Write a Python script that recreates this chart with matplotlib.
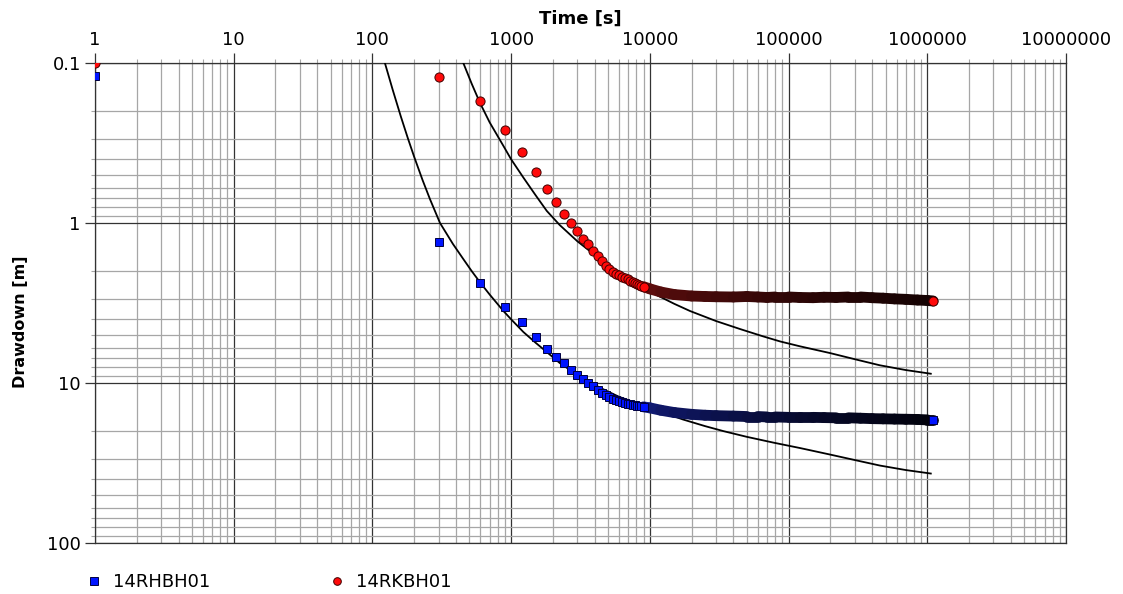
import numpy as np
import matplotlib.pyplot as plt
from matplotlib.ticker import FixedLocator, LogLocator, FuncFormatter, NullFormatter
from matplotlib.lines import Line2D
from matplotlib.collections import LineCollection
from matplotlib.colors import to_rgb

# --- measured drawdown, early part (individual readings) ---
time_early = [1, 300, 600, 900, 1200, 1500, 1800, 2100, 2400, 2700, 3000,
              3300, 3600, 3900, 4200, 4500, 4800, 5100, 5400, 5700, 6000,
              6300, 6600, 6900, 7200, 7500, 7800, 8100, 8400, 8700, 9000]
rh_early = [0.12, 1.31, 2.36, 3.33, 4.18, 5.18, 6.1, 6.9, 7.54, 8.3, 8.95,
            9.5, 10.0, 10.5, 11.0, 11.5, 11.9, 12.3, 12.6, 12.85, 13.05,
            13.2, 13.35, 13.5, 13.6, 13.7, 13.8, 13.9, 13.95, 14.0, 14.1]
rk_early = [0.1, 0.122, 0.172, 0.262, 0.36, 0.48, 0.61, 0.74, 0.875, 1.0, 1.13,
            1.25, 1.36, 1.49, 1.61, 1.73, 1.85, 1.94, 2.01, 2.07, 2.12,
            2.16, 2.2, 2.24, 2.29, 2.33, 2.37, 2.41, 2.44, 2.47, 2.5]

# --- measured drawdown, late part (dense band of readings) ---
time_late = [9000, 10000, 12000, 15000, 20000, 25000, 30000, 40000, 50000,
             60000, 70000, 80000, 100000, 120000, 150000, 180000, 220000,
             270000, 330000, 400000, 480000, 580000, 700000, 850000,
             1000000, 1100000]
rh_late = [14.1, 14.3, 14.8, 15.3, 15.7, 15.9, 16.0, 16.1, 16.2, 16.2, 16.3,
           16.3, 16.4, 16.4, 16.4, 16.45, 16.5, 16.5, 16.6, 16.7, 16.75,
           16.8, 16.85, 16.9, 17.0, 17.0]
rk_late = [2.5, 2.58, 2.7, 2.8, 2.86, 2.88, 2.89, 2.9, 2.88, 2.9, 2.92, 2.9,
           2.9, 2.92, 2.93, 2.91, 2.92, 2.9, 2.9, 2.93, 2.95, 2.98, 3.0,
           3.03, 3.05, 3.07]

# --- fitted type curves ---
fit_rh_time = [123, 140, 160, 180, 200, 230, 260, 307, 380, 452, 520, 597,
               700, 880, 1000, 1225, 1500, 1806, 2240, 3000, 4375, 6000,
               10000, 17300, 25000, 34000, 50000, 78000, 121000, 199000,
               300000, 455000, 700000, 1060000]
fit_rh = [0.1, 0.147, 0.215, 0.295, 0.386, 0.54, 0.71, 1.0, 1.35, 1.68, 2.0,
          2.35, 2.8, 3.55, 4.0, 4.8, 5.6, 6.4, 7.5, 8.9, 10.7, 12.2,
          14.3, 16.9, 18.6, 20.0, 21.7, 23.6, 25.5, 28.0,
          30.3, 32.8, 35.0, 36.8]
fit_rk_time = [452, 520, 597, 700, 880, 1000, 1225, 1500, 1806, 2240, 3000,
               3920, 5000, 6800, 9000, 11200, 15000, 19500, 30000, 44700,
               65000, 87000, 121000, 199000, 300000, 455000, 700000, 1060000]
fit_rk = [0.1, 0.135, 0.178, 0.235, 0.33, 0.40, 0.52, 0.67, 0.84, 1.03, 1.3,
          1.56, 1.84, 2.2, 2.55, 2.82, 3.2, 3.55, 4.1, 4.6,
          5.1, 5.5, 5.9, 6.5, 7.1, 7.75, 8.3, 8.75]

W, H = 1123, 594
fig = plt.figure(figsize=(W / 100, H / 100), dpi=100)
ax = fig.add_axes([95 / W, 1 - 543 / H, (1066 - 95) / W, (543 - 63) / H])

ax.set_xscale("log")
ax.set_yscale("log")
ax.set_xlim(1, 1e7)
ax.set_ylim(100, 0.1)

fmt = FuncFormatter(lambda v, p: f"{v:.0f}" if v >= 1 else f"{v:g}")
ax.xaxis.set_major_locator(FixedLocator([10.0 ** k for k in range(0, 8)]))
ax.yaxis.set_major_locator(FixedLocator([0.1, 1, 10, 100]))
for axis in (ax.xaxis, ax.yaxis):
    axis.set_minor_locator(LogLocator(base=10, subs=np.arange(2, 10), numticks=100))
    axis.set_minor_formatter(NullFormatter())
    axis.set_major_formatter(fmt)
ax.grid(which="major", color="#333333", lw=0.9)
ax.grid(which="minor", color="#a6a6a6", lw=0.9)
ax.set_axisbelow(True)

ax.xaxis.tick_top()
ax.xaxis.set_label_position("top")
ax.tick_params(which="major", direction="out", length=7.2, width=0.9,
               color="#333333", labelsize=13, pad=3)
ax.tick_params(which="minor", direction="out", length=3, width=0.8, color="#a6a6a6")
for s in ax.spines.values():
    s.set_color("#333333")
    s.set_linewidth(0.9)

# type curves
ax.plot(fit_rh_time, fit_rh, color="black", lw=1.3, zorder=3)
ax.plot(fit_rk_time, fit_rk, color="black", lw=1.3, zorder=3)


# dense late readings merge into a band that darkens with time
def band(times, values, c0, c1):
    pts = np.column_stack([times, values])
    segs = np.stack([pts[:-1], pts[1:]], axis=1)
    f = np.linspace(0, 1, len(segs)) ** 0.5
    cols = [tuple(np.array(to_rgb(c0)) * (1 - k) + np.array(to_rgb(c1)) * k) for k in f]
    lc = LineCollection(segs, colors=cols, linewidths=7.8, capstyle="round",
                        joinstyle="round", zorder=4)
    ax.add_collection(lc)


band(time_late, rh_late, "#14208a", "#02020c")
band(time_late, rk_late, "#6e1010", "#140202")

blue_style = dict(marker="s", ms=6.3, mfc="#0014ff", mec="#000040", mew=0.7, ls="none")
red_style = dict(marker="o", ms=6.6, mfc="#ff0a0a", mec="#400000", mew=0.7, ls="none")
ax.plot(time_early, rh_early, zorder=5, **blue_style)
ax.plot(time_early, rk_early, zorder=5, **red_style)
ax.plot(time_late[-1:], rh_late[-1:], zorder=6, **blue_style)
ax.plot(time_late[-1:], rk_late[-1:], zorder=6, **red_style)

ax.set_xlabel("Time [s]", fontsize=13, fontweight="bold", labelpad=5)
ax.set_ylabel("Drawdown [m]", fontsize=11.5, fontweight="bold")
ax.yaxis.set_label_coords(-0.069, 0.46)

handles = [Line2D([], [], **{**blue_style, "ms": 5.5}),
           Line2D([], [], **{**red_style, "ms": 5.5})]
fig.legend(handles, ["14RHBH01", "14RKBH01"], loc="center left",
           bbox_to_anchor=(85 / W, 1 - 582 / H), ncol=2, frameon=False,
           fontsize=13, handlelength=1.0, handletextpad=0.55,
           columnspacing=6.5, borderpad=0, borderaxespad=0)

fig.savefig("out.png", dpi=100)
